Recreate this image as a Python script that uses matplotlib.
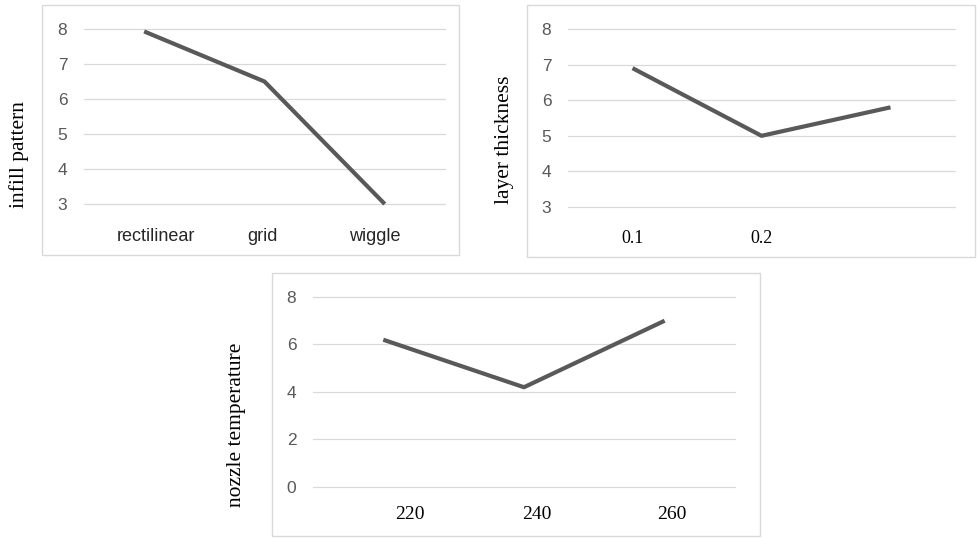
import matplotlib
matplotlib.use("Agg")
import matplotlib.pyplot as plt
from matplotlib.patches import Rectangle

# Data
infill_cats = ["rectilinear", "grid", "wiggle"]
infill_vals = [7.93, 6.5, 3.0]
layer_cats = ["0.1", "0.2", ""]
layer_vals = [6.9, 5.0, 5.8]
nozzle_cats = ["220", "240", "260"]
nozzle_vals = [6.2, 4.2, 7.0]

LINE = "#595959"
GRID = "#d9d9d9"
TICK = "#595959"

fig = plt.figure(figsize=(9.78, 5.38), dpi=100)

def panel(box, axrect, cats, vals, ylim, yticks, ylabel, ylabel_xy, xfont, xcolor, xsize, xshift, ydrop):
    fig.patches.append(Rectangle((box[0], box[1]), box[2], box[3], transform=fig.transFigure,
                                 fill=False, edgecolor=GRID, linewidth=1.0))
    ax = fig.add_axes(axrect)
    x = list(range(len(cats)))
    ax.plot(x, vals, color=LINE, linewidth=3.0, clip_on=False, solid_capstyle="butt", zorder=3)
    ax.set_xlim(-0.5, len(cats) - 0.5)
    ax.set_ylim(*ylim)
    ax.set_yticks(yticks)
    ax.set_yticklabels([str(t) for t in yticks], family="Liberation Sans", fontsize=12.5, color=TICK)
    ax.set_xticks(x)
    ax.set_xticklabels([])
    for xi, cat, dx in zip(x, cats, xshift):
        ax.annotate(cat, xy=(xi, 0), xycoords=("data", "axes fraction"),
                    xytext=(dx, -ydrop), textcoords="offset pixels",
                    ha="center", va="center", family=xfont, fontsize=xsize, color=xcolor,
                    annotation_clip=False)
    for s in ax.spines.values():
        s.set_visible(False)
    ax.grid(axis="y", color=GRID, linewidth=0.9)
    for gl in ax.yaxis.get_gridlines():
        gl.set_clip_on(False)
    ax.set_axisbelow(True)
    ax.tick_params(axis="y", length=0, pad=12)
    ax.tick_params(axis="x", length=0)
    fig.text(ylabel_xy[0], ylabel_xy[1], ylabel, rotation=90, ha="center", va="center",
             family="Liberation Serif", fontsize=15.5, color="black")
    return ax

panel((0.0429, 0.526, 0.4264, 0.4647), (0.0859, 0.6208, 0.369, 0.3253),
      infill_cats, infill_vals, (3, 8), [3, 4, 5, 6, 7, 8], "infill pattern", (0.019, 0.712),
      "Liberation Sans", "#262626", 13, [12, -2, -10], 32)
panel((0.5389, 0.5223, 0.458, 0.4684), (0.5808, 0.6152, 0.3957, 0.3309),
      layer_cats, layer_vals, (3, 8), [3, 4, 5, 6, 7, 8], "layer thickness", (0.516, 0.74),
      "Liberation Serif", "black", 13, [0, 0, 0], 31)
panel((0.2781, 0.0037, 0.499, 0.4888), (0.32, 0.0948, 0.4315, 0.3532),
      nozzle_cats, nozzle_vals, (0, 8), [0, 2, 4, 6, 8], "nozzle temperature", (0.242, 0.21),
      "Liberation Serif", "black", 14, [27, 13, 7], 28)

fig.savefig("out.png", dpi=100)
